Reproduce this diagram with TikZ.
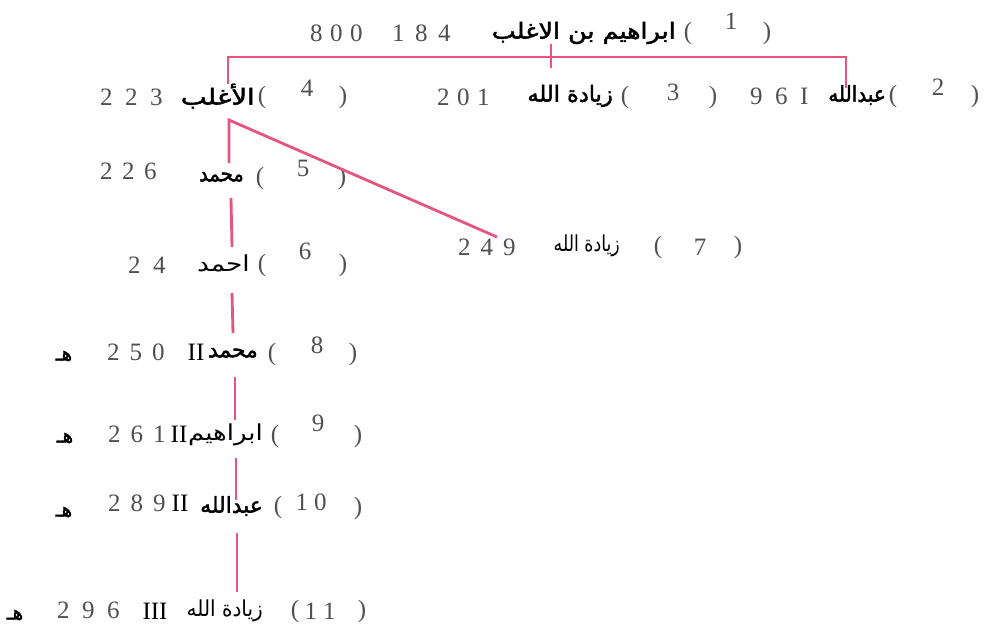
\documentclass[tikz,border=0pt]{standalone}
\usepackage{fontspec}
\usepackage{graphicx}
\setmainfont{Liberation Serif}
\newfontfamily\arabicfont[Script=Arabic,AutoFakeBold=2]{DejaVu Sans}
\newfontfamily\numfont[LetterSpace=50]{Liberation Serif}
\TeXXeTstate=1
\definecolor{linkpink}{RGB}{230,85,128}
\definecolor{numgray}{RGB}{80,80,80}
\tikzset{
  num/.style={font=\numfont\fontsize{25}{25}\selectfont, text=numgray, inner sep=0pt, anchor=west},
  arb/.style={font=\arabicfont\bfseries\fontsize{22}{26}\selectfont, inner sep=0pt, anchor=east},
  arr/.style={font=\arabicfont\fontsize{22}{26}\selectfont, inner sep=0pt, anchor=east},
  hij/.style={font=\arabicfont\bfseries\fontsize{20}{24}\selectfont, inner sep=0pt},
  pa/.style={font=\fontsize{25}{25}\selectfont, text=numgray, inner sep=0pt},
  rom/.style={font=\fontsize{25}{25}\selectfont, inner sep=0pt},
  link/.style={draw=linkpink, line width=2.8pt}
}
\begin{document}
\begin{tikzpicture}[x=1pt,y=-1pt]
\useasboundingbox[fill=white] (0,0) rectangle (988,637);
% Row 1
\node[num] (num1a) at (310,33) {\addfontfeature{LetterSpace=30}800};
\node[num] (num1b) at (392,33) {\addfontfeature{LetterSpace=42}184};
\node[arb] (name1) at (676,33) {\scalebox{1.155}[1]{\beginR ابراهيم بن الاغلب\endR}};
\node[pa] (po1) at (688,33) {(};
\node[pa] (k1) at (731,21) {1};
\node[pa] (pc1) at (767,33) {)};
% Row 4 (top-left)
\node[num] (num4) at (100,97) {223};
\node[arb] (name4) at (255,96) {\scalebox{1.255}[1]{\beginR الأغلب\endR}};
\node[pa] (po4) at (262,97) {(};
\node[pa] (k4) at (307,88) {4};
\node[pa] (pc4) at (343,97) {)};
% Row 3
\node[num] (num3) at (437,97) {\addfontfeature{LetterSpace=30}201};
\node[arb] (name3) at (613,96) {\scalebox{1.02}[1]{\beginR زيادة الله\endR}};
\node[pa] (po3) at (625,97) {(};
\node[pa] (k3) at (673,92) {3};
\node[pa] (pc3) at (713,97) {)};
% Row 2
\node[num] (num2) at (750,96) {96I};
\node[arb] (name2) at (886,95) {\scalebox{0.91}[1]{\beginR عبدالله\endR}};
\node[pa] (po2) at (893,96) {(};
\node[pa] (k2) at (938,87) {2};
\node[pa] (pc2) at (975,96) {)};
% Row 5
\node[num] (num5) at (100,171) {\addfontfeature{LetterSpace=38}226};
\node[arb] (name5) at (244,177) {\scalebox{0.89}[1]{\beginR محمد\endR}};
\node[pa] (po5) at (260,178) {(};
\node[pa] (k5) at (303,168) {5};
\node[pa] (pc5) at (342,178) {)};
% Row 6
\node[num] (num6) at (128,265) {24};
\node[arr] (name6) at (250,263) {\scalebox{1.2}[1]{\beginR احمد\endR}};
\node[pa] (po6) at (262,265) {(};
\node[pa] (k6) at (305,251) {6};
\node[pa] (pc6) at (343,265) {)};
% Row 7
\node[num] (num7) at (458,247) {\addfontfeature{LetterSpace=40}249};
\node[arr] (name7) at (620,246) {\scalebox{0.79}[1]{\beginR زيادة الله\endR}};
\node[pa] (po7) at (658,247) {(};
\node[pa] (k7) at (700,247) {7};
\node[pa] (pc7) at (738,247) {)};
% Row 8
\node[hij] (h8) at (64,356) {\beginR هـ\endR};
\node[num] (num8) at (107,352) {\addfontfeature{LetterSpace=40}250};
\node[rom] (r8) at (196,352) {II};
\node[arb] (name8) at (258,353) {\scalebox{0.99}[1]{\beginR محمد\endR}};
\node[pa] (po8) at (272,354) {(};
\node[pa] (k8) at (317,345) {8};
\node[pa] (pc8) at (353,354) {)};
% Row 9
\node[hij] (h9) at (65,438) {\beginR هـ\endR};
\node[num] (num9) at (108,434) {\addfontfeature{LetterSpace=40}261};
\node[rom] (r9) at (179,434) {II};
\node[arr] (name9) at (263,435) {\scalebox{1.18}[1]{\beginR ابراهيم\endR}};
\node[pa] (po9) at (275,436) {(};
\node[pa] (k9) at (318,423) {9};
\node[pa] (pc9) at (358,436) {)};
% Row 10
\node[hij] (h10) at (64,512) {\beginR هـ\endR};
\node[num] (num10) at (108,503) {\addfontfeature{LetterSpace=40}289};
\node[rom] (r10) at (180,503) {II};
\node[arb] (name10) at (263,506) {\scalebox{0.99}[1]{\beginR عبدالله\endR}};
\node[pa] (po10) at (278,507) {(};
\node[pa] (k10) at (311,502) {1\hspace{6pt}0};
\node[pa] (pc10) at (358,508) {)};
% Row 11
\node[hij] (h11) at (15,615) {\beginR هـ\endR};
\node[num] (num11) at (57,610) {296};
\node[rom] (r11) at (155,611) {III};
\node[arr] (name11) at (263,611) {\scalebox{0.91}[1]{\beginR زيادة الله\endR}};
\node[pa] (po11) at (295,611) {(};
\node[pa] (k11) at (320,611) {1\hspace{6pt}1};
\node[pa] (pc11) at (362,611) {)};
% connector points
\coordinate (hl) at (228,57);
\coordinate (hr) at (846,57);
\coordinate (tickT) at (551,44);
\coordinate (tickB) at (551,68);
\coordinate (v4) at (228,84);
\coordinate (v2) at (846,88);
\coordinate (a4) at (229,120);
\coordinate (a5) at (229,163);
\coordinate (d7) at (497,237);
\coordinate (s1a) at (231,198); \coordinate (s1b) at (232,247);
\coordinate (s2a) at (232,293); \coordinate (s2b) at (233,333);
\coordinate (s3a) at (235,377); \coordinate (s3b) at (235,420);
\coordinate (s4a) at (236,458); \coordinate (s4b) at (236,500);
\coordinate (s5a) at (237,533); \coordinate (s5b) at (237,592);
\draw[link] (v4) -- (hl) -- (hr) -- (v2);
\draw[link] (tickT) -- (tickB);
\draw[link] (a5) -- (a4) -- (d7);
\draw[link] (s1a) -- (s1b);
\draw[link] (s2a) -- (s2b);
\draw[link] (s3a) -- (s3b);
\draw[link] (s4a) -- (s4b);
\draw[link] (s5a) -- (s5b);
\end{tikzpicture}
\end{document}
